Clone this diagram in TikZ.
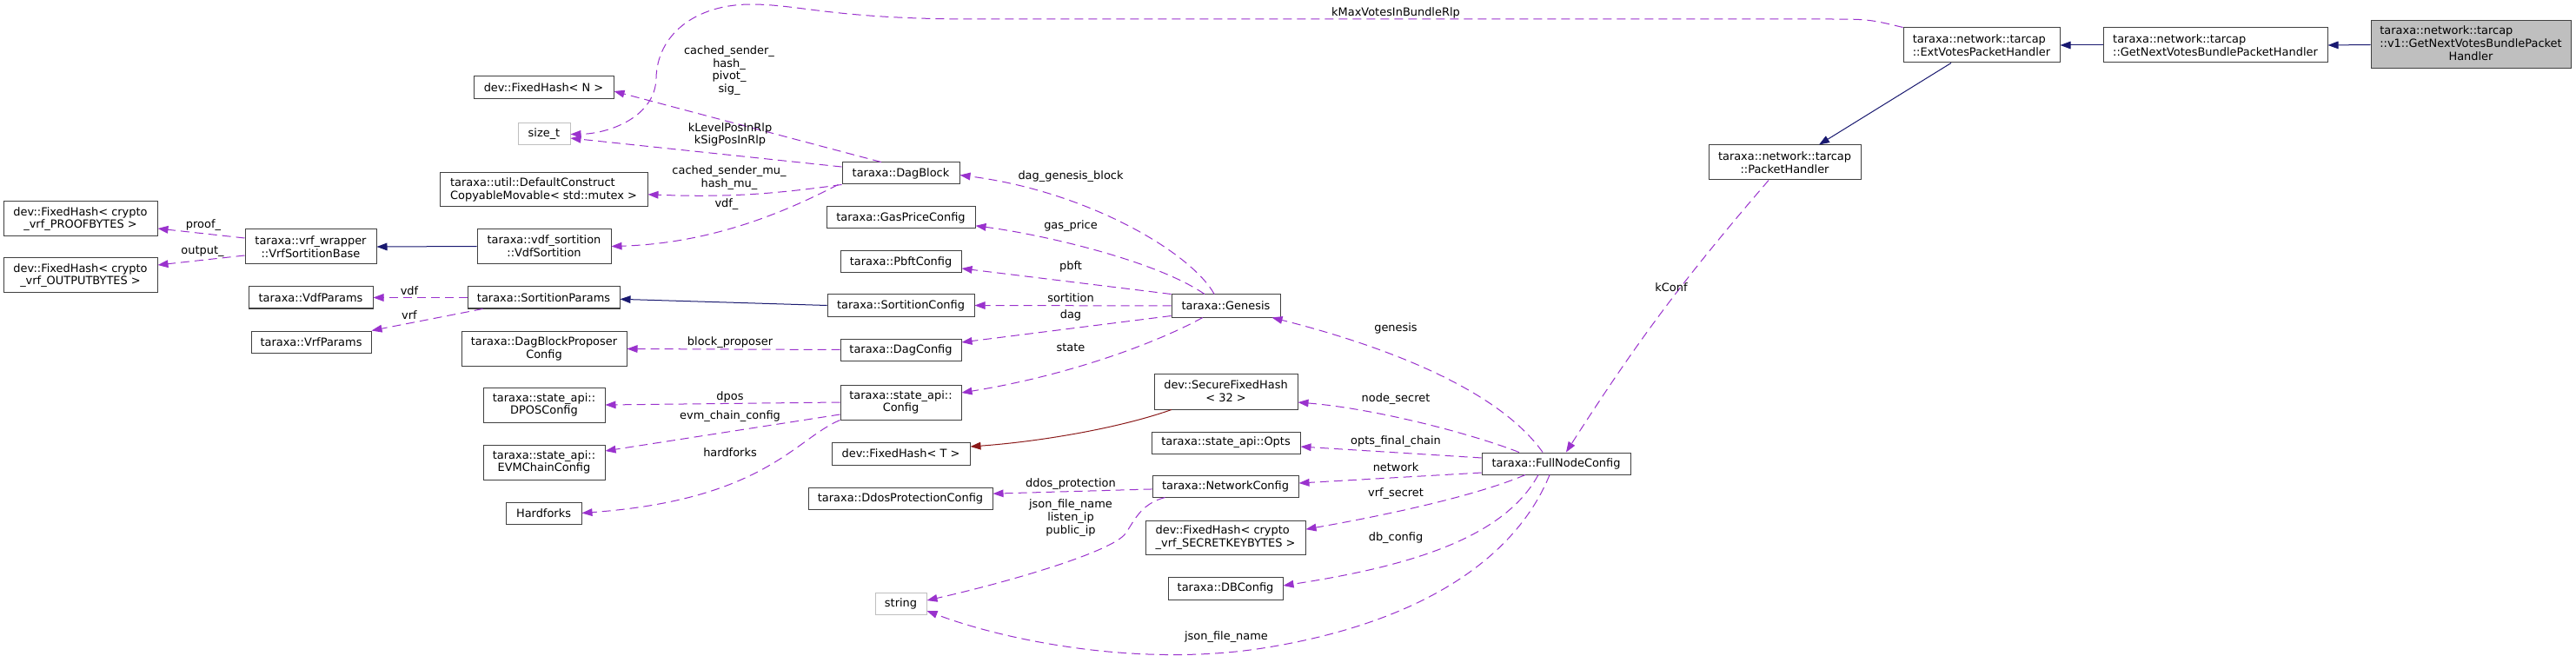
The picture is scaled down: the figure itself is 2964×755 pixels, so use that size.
\documentclass[tikz,border=0pt]{standalone}
\usepackage{fontspec}
\setmainfont{DejaVu Sans}
\usetikzlibrary{arrows.meta}
\newdimen\pxu \pxu=0.75pt
\newcommand{\dxfont}{\fontsize{9.7}{11}\selectfont}
\definecolor{dxpurple}{HTML}{9A32CD}
\definecolor{dxnavy}{HTML}{191970}
\definecolor{dxred}{HTML}{8B1A1A}
\tikzset{
  cls/.style={draw=black!75,line width=0.75pt,inner xsep=2pt,inner ysep=1pt,align=center,font=\dxfont,fill=white},
  extcls/.style={cls,draw=black!25},
  focus/.style={cls,fill=black!25},
  member/.style={-{Triangle[length=9pt,width=6.5pt]},line width=0.75pt,draw=dxpurple,dash pattern=on 7.5pt off 4.5pt},
  inherit/.style={-{Triangle[length=9pt,width=6.5pt]},line width=0.75pt,draw=dxnavy},
  tmpl/.style={-{Triangle[length=9pt,width=6.5pt]},line width=0.75pt,draw=dxred},
  lbl/.style={font=\dxfont,inner sep=0pt,align=center}
}

\begin{document}
\begin{tikzpicture}[x=0.75pt,y=-0.75pt]
\path[use as bounding box,fill=white] (0,0) rectangle (2964,755);
% Klassen
\node[cls,minimum width=177\pxu,minimum height=40\pxu] (proof) at (92.5,252) {dev::FixedHash< crypto\\\_vrf\_PROOFBYTES >};
\node[cls,minimum width=177\pxu,minimum height=40\pxu] (output) at (92.5,317) {dev::FixedHash< crypto\\\_vrf\_OUTPUTBYTES >};
\node[cls,minimum width=151\pxu,minimum height=40\pxu] (vrfbase) at (357.5,284) {taraxa::vrf\_wrapper\\::VrfSortitionBase};
\node[cls,minimum width=143\pxu,minimum height=25\pxu] (vdfparams) at (357.5,342.5) {taraxa::VdfParams};
\node[cls,minimum width=138\pxu,minimum height=25\pxu] (vrfparams) at (358,393.5) {taraxa::VrfParams};
\node[cls,minimum width=161\pxu,minimum height=26\pxu] (fixedN) at (625.5,101) {dev::FixedHash< N >};
\node[extcls,minimum width=60\pxu,minimum height=25\pxu] (sizet) at (626,154.5) {size\_t};
\node[cls,align=left,minimum width=239\pxu,minimum height=39\pxu] (mutex) at (625.5,218.5) {taraxa::util::DefaultConstruct\\CopyableMovable< std::mutex >};
\node[cls,minimum width=154\pxu,minimum height=40\pxu] (vdfsort) at (626,283.5) {taraxa::vdf\_sortition\\::VdfSortition};
\node[cls,minimum width=175\pxu,minimum height=25\pxu] (sortparams) at (625.5,342.5) {taraxa::SortitionParams};
\node[cls,minimum width=190\pxu,minimum height=40\pxu] (proposer) at (626,401.5) {taraxa::DagBlockProposer\\Config};
\node[cls,minimum width=140\pxu,minimum height=40\pxu] (dpos) at (626,466) {taraxa::state\_api::\\DPOSConfig};
\node[cls,minimum width=140\pxu,minimum height=40\pxu] (evm) at (626,532) {taraxa::state\_api::\\EVMChainConfig};
\node[cls,minimum width=87\pxu,minimum height=25\pxu] (hardforks) at (625.5,590.5) {Hardforks};
\node[cls,minimum width=135\pxu,minimum height=25\pxu] (dagblock) at (1036.5,199.5) {taraxa::DagBlock};
\node[cls,minimum width=171\pxu,minimum height=25\pxu] (gasprice) at (1036.5,250.5) {taraxa::GasPriceConfig};
\node[cls,minimum width=139\pxu,minimum height=25\pxu] (pbft) at (1036.5,301.5) {taraxa::PbftConfig};
\node[cls,minimum width=169\pxu,minimum height=25\pxu] (sortconf) at (1036.5,351.5) {taraxa::SortitionConfig};
\node[cls,minimum width=139\pxu,minimum height=25\pxu] (dagconf) at (1036.5,402.5) {taraxa::DagConfig};
\node[cls,minimum width=139\pxu,minimum height=40\pxu] (stateconf) at (1036.5,463) {taraxa::state\_api::\\Config};
\node[cls,minimum width=159\pxu,minimum height=26\pxu] (fixedT) at (1036.5,522) {dev::FixedHash< T >};
\node[cls,minimum width=212\pxu,minimum height=25\pxu] (ddos) at (1036,573.5) {taraxa::DdosProtectionConfig};
\node[extcls,minimum width=59\pxu,minimum height=25\pxu] (string) at (1036.5,694.5) {string};
\node[cls,minimum width=125\pxu,minimum height=26\pxu] (genesis) at (1410.5,352) {taraxa::Genesis};
\node[cls,minimum width=165\pxu,minimum height=41\pxu] (secure) at (1410.5,450.5) {dev::SecureFixedHash\\< 32 >};
\node[cls,minimum width=171\pxu,minimum height=25\pxu] (opts) at (1410.5,509.5) {taraxa::state\_api::Opts};
\node[cls,minimum width=168\pxu,minimum height=25\pxu] (network) at (1410,559.5) {taraxa::NetworkConfig};
\node[cls,align=left,minimum width=184\pxu,minimum height=39\pxu] (secretkey) at (1410,618.5) {dev::FixedHash< crypto\\\_vrf\_SECRETKEYBYTES >};
\node[cls,minimum width=132\pxu,minimum height=26\pxu] (dbconf) at (1410,677) {taraxa::DBConfig};
\node[cls,minimum width=171\pxu,minimum height=25\pxu] (fullnode) at (1790.5,533.5) {taraxa::FullNodeConfig};
\node[cls,minimum width=175\pxu,minimum height=40\pxu] (packet) at (2053.5,187) {taraxa::network::tarcap\\::PacketHandler};
\node[cls,align=left,minimum width=180\pxu,minimum height=40\pxu] (extvotes) at (2280,52) {taraxa::network::tarcap\\::ExtVotesPacketHandler};
\node[cls,align=left,minimum width=258\pxu,minimum height=40\pxu] (getnext) at (2549,52) {taraxa::network::tarcap\\::GetNextVotesBundlePacketHandler};
\node[focus,minimum width=230\pxu,minimum height=55\pxu] (v1) at (2843,51.5) {\begin{tabular}{@{}l@{}}taraxa::network::tarcap\\::v1::GetNextVotesBundlePacket\\\multicolumn{1}{@{}c@{}}{Handler}\end{tabular}};

% Vererbung
\draw[inherit] (v1.west) -- (getnext.east);
\draw[inherit] (getnext.west) -- (extvotes.east);
\draw[inherit] ([xshift=-26.25pt]extvotes.south) -- ([xshift=29.6pt]packet.north);
\draw[inherit] (vdfsort.west) -- (vrfbase.east);
\draw[inherit] (sortconf.west) -- ([yshift=-1.35pt]sortparams.east);
\draw[tmpl] ([xshift=-46.9pt]secure.south) .. controls (1290,492) and (1200,508) .. ([yshift=6pt]fixedT.east);

% Mitglieder
\draw[member] ([xshift=-17pt]dagblock.north) -- ([yshift=-3pt]fixedN.east);
\draw[member] ([yshift=5.6pt]dagblock.west) -- ([yshift=-3.4pt]sizet.east);
\draw[member] (extvotes.north west) .. controls (2150,22) .. (2097,22) -- (1120,22) .. controls (960,22) and (920,5) .. (864,5) .. controls (800,5) and (756,40) .. (755,90) .. controls (754,135) and (700,154) .. (sizet.east);
\draw[member] (dagblock.south west) to[bend left=5] ([yshift=-4pt]mutex.east);
\draw[member] ([xshift=-3pt]dagblock.south west) .. controls (920,235) and (830,280) .. (vdfsort.east);
\draw[member] ([yshift=7.5pt]vrfbase.west) -- ([yshift=-8.25pt]proof.east);
\draw[member] ([yshift=-7.5pt]vrfbase.west) -- ([yshift=9pt]output.east);
\draw[member] (sortparams.west) -- (vdfparams.east);
\draw[member] ([xshift=13.5pt]sortparams.south west) -- (vrfparams.north east);
\draw[member] (dagconf.west) -- (proposer.east);
\draw[member] (stateconf.west) -- (dpos.east);
\draw[member] ([yshift=-10.5pt]stateconf.west) -- ([yshift=9.75pt]evm.east);
\draw[member] (stateconf.south west) .. controls (915,505) and (880,575) .. (hardforks.east);
\draw[member] ([xshift=-10pt]genesis.north) .. controls (1370,290) and (1250,220) .. ([yshift=-1.5pt]dagblock.east);
\draw[member] ([xshift=-18.4pt]genesis.north) .. controls (1330,300) and (1200,270) .. ([yshift=-7pt]gasprice.east);
\draw[member] (genesis.north west) -- ([yshift=-5.6pt]pbft.east);
\draw[member] (genesis.west) -- (sortconf.east);
\draw[member] ([yshift=1.5pt]genesis.south west) -- ([yshift=6.4pt]dagconf.east);
\draw[member] ([xshift=-20pt]genesis.south) .. controls (1330,395) and (1230,432) .. ([yshift=8.25pt]stateconf.east);
\draw[member] ([xshift=-11.6pt]fullnode.north) .. controls (1725,450) and (1600,400) .. ([xshift=-7.5pt]genesis.south east);
\draw[member] ([xshift=-32pt]fullnode.north) .. controls (1690,498) and (1580,470) .. ([yshift=-9.4pt]secure.east);
\draw[member] ([yshift=4.9pt]fullnode.west) -- ([yshift=-3.4pt]opts.east);
\draw[member] ([yshift=-7.9pt]fullnode.west) -- ([yshift=2.6pt]network.east);
\draw[member] ([xshift=-26.6pt]fullnode.south) .. controls (1700,570) and (1600,592) .. ([yshift=7pt]secretkey.east);
\draw[member] ([xshift=-15.4pt]fullnode.south) .. controls (1730,620) and (1620,652) .. ([yshift=2.25pt]dbconf.east);
\draw[member] ([xshift=-5.6pt]fullnode.south) .. controls (1745,640) and (1640,715) .. (1459,745) .. controls (1309,770) and (1150,735) .. ([yshift=-6.4pt]string.east);
\draw[member] ([yshift=-2.6pt]network.west) -- ([yshift=4pt]ddos.east);
\draw[member] ([xshift=11.25pt]network.south west) .. controls (1312,580) and (1305,600) .. (1295,614) .. controls (1280,635) and (1160,670) .. ([yshift=2.6pt]string.east);
\draw[member] ([xshift=-13.9pt]packet.south) to[bend right=4] ([xshift=8.6pt]fullnode.north);

% Beschriftungen
\node[lbl] (lsig) at (839,81) {cached\_sender\_\\hash\_\\pivot\_\\sig\_};
\node[lbl] (lrlp) at (840,155) {kLevelPosInRlp\\kSigPosInRlp};
\node[lbl] (lmu) at (839,204.5) {cached\_sender\_mu\_\\hash\_mu\_};
\node[lbl] (lvdf) at (836,235) {vdf\_};
\node[lbl] (lmax) at (1606,15) {kMaxVotesInBundleRlp};
\node[lbl] (lproof) at (234,259) {proof\_};
\node[lbl] (loutput) at (233,289) {output\_};
\node[lbl] (lvdfp) at (471,335) {vdf};
\node[lbl] (lvrfp) at (471,363) {vrf};
\node[lbl] (lprop) at (840,394) {block\_proposer};
\node[lbl] (ldpos) at (840,457) {dpos};
\node[lbl] (levm) at (840,479) {evm\_chain\_config};
\node[lbl] (lhard) at (840,521) {hardforks};
\node[lbl] (ldgb) at (1232,203) {dag\_genesis\_block};
\node[lbl] (lgas) at (1232,260) {gas\_price};
\node[lbl] (lpbft) at (1232,307) {pbft};
\node[lbl] (lsort) at (1232,343) {sortition};
\node[lbl] (ldag) at (1232,363) {dag};
\node[lbl] (lstate) at (1232,400) {state};
\node[lbl] (lddos) at (1232,557) {ddos\_protection};
\node[lbl] (lnetip) at (1232,596) {json\_file\_name\\listen\_ip\\public\_ip};
\node[lbl] (ljson) at (1411,733) {json\_file\_name};
\node[lbl] (lnode) at (1606,459) {node\_secret};
\node[lbl] (lopts) at (1606,508) {opts\_final\_chain};
\node[lbl] (lnet) at (1606,538) {network};
\node[lbl] (lvrfs) at (1606,568) {vrf\_secret};
\node[lbl] (ldb) at (1606,619) {db\_config};
\node[lbl] (lgen) at (1606,378) {genesis};
\node[lbl] (lkconf) at (1923,331) {kConf};
\end{tikzpicture}
\end{document}
